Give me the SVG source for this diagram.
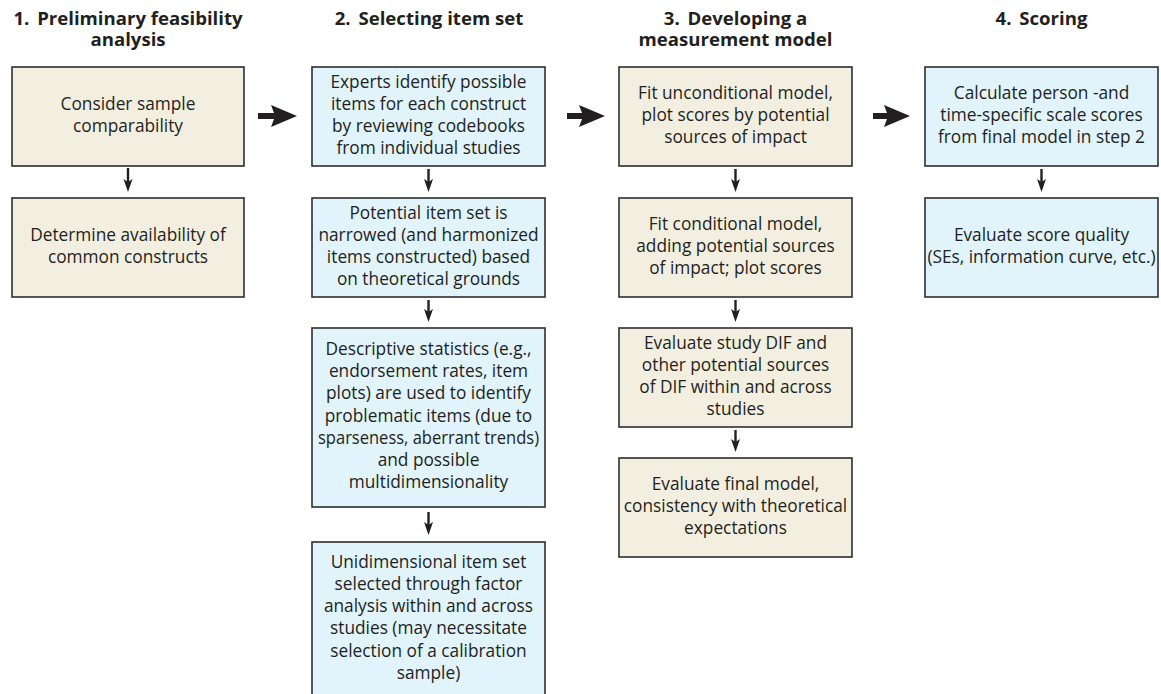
<svg xmlns="http://www.w3.org/2000/svg" width="1161" height="694" viewBox="0 0 1161 694">
<style>
  .hdr{font-family:"Open Sans","Liberation Sans",sans-serif;font-weight:bold;font-size:18.6px;fill:#231f20;text-anchor:middle}
  .txt{font-family:"Open Sans","Liberation Sans",sans-serif;font-size:17.3px;fill:#231f20;text-anchor:middle}
  .beige{fill:#f3efe0;stroke:#2e2e2e;stroke-width:1.6}
  .blue{fill:#e1f3fb;stroke:#2e2e2e;stroke-width:1.6}
  .big{fill:#231f20}
  .shaft{stroke:#231f20;stroke-width:2.4;fill:none}
  .head{fill:#231f20}
</style>
<rect width="1161" height="694" fill="#ffffff"/>

<g id="headers">
  <text class="hdr"><tspan x="128" y="24.5">1.<tspan dx="3"> Preliminary feasibility</tspan></tspan><tspan x="128" y="45.5">analysis</tspan></text>
  <text class="hdr" x="429" y="25">2.<tspan dx="3"> Selecting item set</tspan></text>
  <text class="hdr"><tspan x="735.5" y="24.5">3.<tspan dx="3"> Developing a</tspan></tspan><tspan x="735.5" y="45.5">measurement model</tspan></text>
  <text class="hdr" x="1041.5" y="25">4.<tspan dx="3"> Scoring</tspan></text>
</g>

<g id="n1a">
  <rect class="beige" x="12" y="67" width="232" height="99"/>
  <text class="txt" x="128" y="109.5">Consider sample</text>
  <text class="txt" x="128" y="131.5">comparability</text>
</g>
<g id="n1b">
  <rect class="beige" x="12" y="198" width="232" height="99"/>
  <text class="txt" x="128" y="240.5">Determine availability of</text>
  <text class="txt" x="128" y="262.5">common constructs</text>
</g>

<g id="n2a">
  <rect class="blue" x="312" y="67" width="233" height="99"/>
  <text class="txt" x="428.5" y="87.5">Experts identify possible</text>
  <text class="txt" x="428.5" y="109.5">items for each construct</text>
  <text class="txt" x="428.5" y="131.5">by reviewing codebooks</text>
  <text class="txt" x="428.5" y="153.5">from individual studies</text>
</g>
<g id="n2b">
  <rect class="blue" x="312" y="198" width="233" height="99"/>
  <text class="txt" x="428.5" y="218.5">Potential item set is</text>
  <text class="txt" x="428.5" y="240.5">narrowed (and harmonized</text>
  <text class="txt" x="428.5" y="262.5">items constructed) based</text>
  <text class="txt" x="428.5" y="284.5">on theoretical grounds</text>
</g>
<g id="n2c">
  <rect class="blue" x="312" y="328" width="233" height="179"/>
  <text class="txt" x="428.5" y="354.6">Descriptive statistics (e.g.,</text>
  <text class="txt" x="428.5" y="376.9">endorsement rates, item</text>
  <text class="txt" x="428.5" y="399.2">plots) are used to identify</text>
  <text class="txt" x="428.5" y="421.5">problematic items (due to</text>
  <text class="txt" x="428.5" y="443.8" textLength="221" lengthAdjust="spacingAndGlyphs">sparseness, aberrant trends)</text>
  <text class="txt" x="428.5" y="466.1">and possible</text>
  <text class="txt" x="428.5" y="488.4">multidimensionality</text>
</g>
<g id="n2d">
  <rect class="blue" x="312" y="542" width="233" height="160"/>
  <text class="txt" x="428.5" y="567.5">Unidimensional item set</text>
  <text class="txt" x="428.5" y="589.8">selected through factor</text>
  <text class="txt" x="428.5" y="612.1">analysis within and across</text>
  <text class="txt" x="428.5" y="634.4">studies (may necessitate</text>
  <text class="txt" x="428.5" y="656.7">selection of a calibration</text>
  <text class="txt" x="428.5" y="679">sample)</text>
</g>

<g id="n3a">
  <rect class="beige" x="619" y="67" width="233" height="99"/>
  <text class="txt" x="735.5" y="98.5">Fit unconditional model,</text>
  <text class="txt" x="735.5" y="120.5">plot scores by potential</text>
  <text class="txt" x="735.5" y="142.5">sources of impact</text>
</g>
<g id="n3b">
  <rect class="beige" x="619" y="198" width="233" height="99"/>
  <text class="txt" x="735.5" y="229.5">Fit conditional model,</text>
  <text class="txt" x="735.5" y="251.5">adding potential sources</text>
  <text class="txt" x="735.5" y="273.5">of impact; plot scores</text>
</g>
<g id="n3c">
  <rect class="beige" x="619" y="328" width="233" height="99"/>
  <text class="txt" x="735.5" y="348.5">Evaluate study DIF and</text>
  <text class="txt" x="735.5" y="370.5">other potential sources</text>
  <text class="txt" x="735.5" y="392.5">of DIF within and across</text>
  <text class="txt" x="735.5" y="414.5">studies</text>
</g>
<g id="n3d">
  <rect class="beige" x="619" y="458" width="233" height="99"/>
  <text class="txt" x="735.5" y="489.5">Evaluate final model,</text>
  <text class="txt" x="735.5" y="511.5">consistency with theoretical</text>
  <text class="txt" x="735.5" y="533.5">expectations</text>
</g>

<g id="n4a">
  <rect class="blue" x="925" y="67" width="233" height="99"/>
  <text class="txt" x="1041.5" y="98.5">Calculate person -and</text>
  <text class="txt" x="1041.5" y="120.5">time-specific scale scores</text>
  <text class="txt" x="1041.5" y="142.5">from final model in step 2</text>
</g>
<g id="n4b">
  <rect class="blue" x="925" y="198" width="233" height="99"/>
  <text class="txt" x="1041.5" y="240.5">Evaluate score quality</text>
  <text class="txt" x="1041.5" y="262.5">(SEs, information curve, etc.)</text>
</g>

<g id="connectors">
  <!-- big arrows between stages -->
  <path class="big" d="M258,113 L274,113 L271,105 L297,116 L271,127 L274,119 L258,119 Z"/>
  <path class="big" d="M567,113 L582,113 L579,105 L605,116 L579,127 L582,119 L567,119 Z"/>
  <path class="big" d="M873,113 L887,113 L884,105 L910,116 L884,127 L887,119 L873,119 Z"/>
  <!-- small arrows within stages -->
  <line class="shaft" x1="128" y1="168" x2="128" y2="184"/>
  <path class="head" d="M123.5,179 L128,182 L132.5,179 L128,192 Z"/>

  <line class="shaft" x1="428.5" y1="169" x2="428.5" y2="184"/>
  <path class="head" d="M424,179 L428.5,182 L433,179 L428.5,192 Z"/>
  <line class="shaft" x1="428.5" y1="300" x2="428.5" y2="314"/>
  <path class="head" d="M424,309 L428.5,312 L433,309 L428.5,322 Z"/>
  <line class="shaft" x1="428.5" y1="512" x2="428.5" y2="527"/>
  <path class="head" d="M424,522 L428.5,525 L433,522 L428.5,535 Z"/>

  <line class="shaft" x1="735.5" y1="169" x2="735.5" y2="184"/>
  <path class="head" d="M731,179 L735.5,182 L740,179 L735.5,192 Z"/>
  <line class="shaft" x1="735.5" y1="300" x2="735.5" y2="314"/>
  <path class="head" d="M731,309 L735.5,312 L740,309 L735.5,322 Z"/>
  <line class="shaft" x1="735.5" y1="430" x2="735.5" y2="444"/>
  <path class="head" d="M731,439 L735.5,442 L740,439 L735.5,452 Z"/>

  <line class="shaft" x1="1041.5" y1="169" x2="1041.5" y2="184"/>
  <path class="head" d="M1037,179 L1041.5,182 L1046,179 L1041.5,192 Z"/>
</g>
</svg>
